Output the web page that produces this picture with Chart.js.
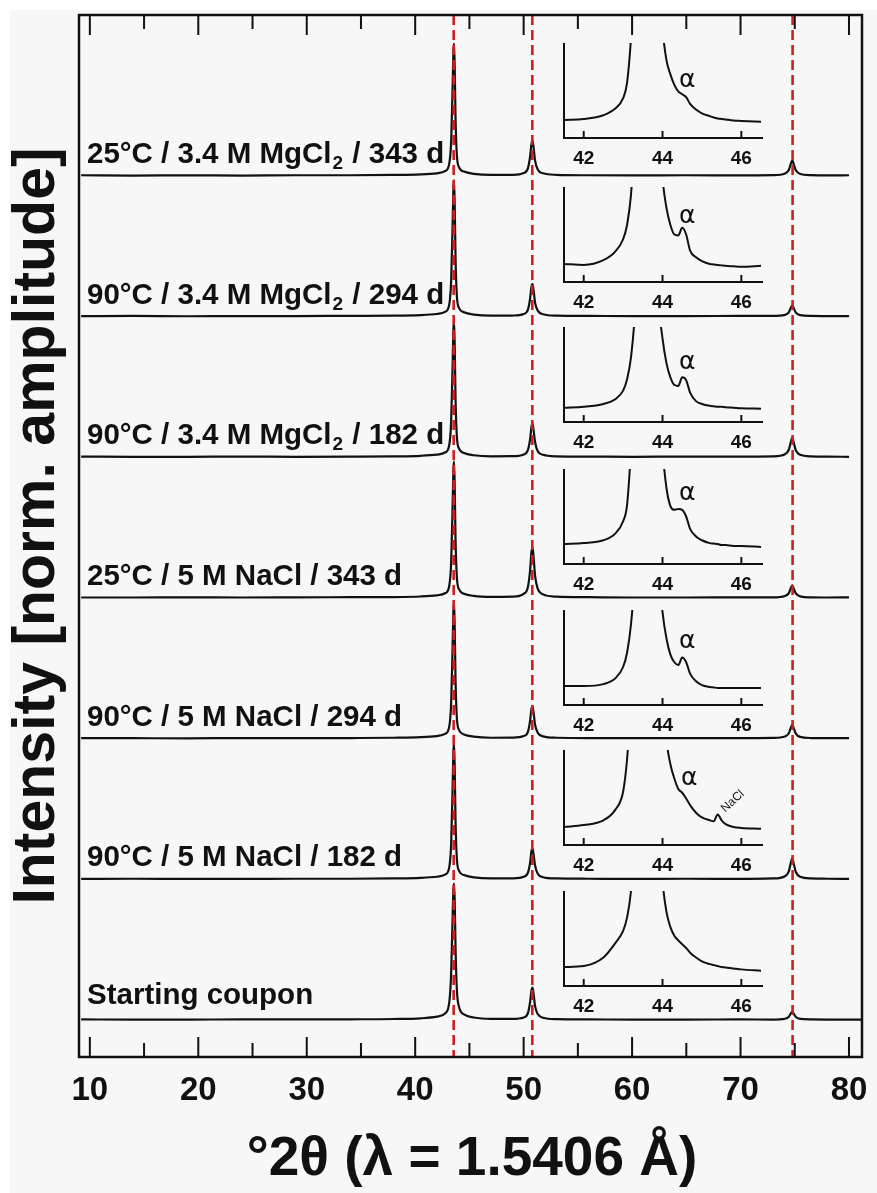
<!DOCTYPE html>
<html>
<head>
<meta charset="utf-8">
<script src="https://cdn.jsdelivr.net/npm/chart.js@4.4.0/dist/chart.umd.min.js"></script>
<style>
html, body { margin: 0; padding: 0; background: #fff; }
#wrap { position: relative; width: 877px; height: 1193px; overflow: hidden; }
#bg { position: absolute; left: 10px; top: 10px; right: 0; bottom: 0; background: #f7f7f7; }
canvas { position: absolute; }
</style>
</head>
<body>
<div id="wrap">
  <div id="bg"></div>
  <canvas id="main" width="877" height="1193" style="left:0;top:0;"></canvas>
</div>
<script>
// sample names, top to bottom
const sampleLabels = [
    '25°C / 3.4 M MgCl₂ / 343 d',
    '90°C / 3.4 M MgCl₂ / 294 d',
    '90°C / 3.4 M MgCl₂ / 182 d',
    '25°C / 5 M NaCl / 343 d',
    '90°C / 5 M NaCl / 294 d',
    '90°C / 5 M NaCl / 182 d',
    'Starting coupon'
];

const peakLines = [43.55, 50.8, 74.8];
const xTicks = [10, 15, 20, 25, 30, 35, 40, 45, 50, 55, 60, 65, 70, 75, 80];
const insetTicks = [42, 44, 46];

// 2theta positions of the main patterns
const mainX = [9.2, 14, 19, 24, 29, 34, 38, 40.5, 42, 42.8, 43.15, 43.32, 43.44, 43.52, 43.58, 43.64, 43.72, 43.84, 44.05, 44.5,
    45.4, 47, 49, 50.0, 50.4, 50.6, 50.72, 50.82, 50.92, 51.05, 51.3, 51.8, 53, 56, 60, 65, 70, 73, 74.1, 74.45,
    74.65, 74.78, 74.9, 75.1, 75.5, 76.5, 78, 80, 81.2];

// normalised intensities, one array per sample (top to bottom)
const mg25_343 = [0.004, 0.002, 0.003, 0.002, 0.004, 0.004, 0.006, 0.01, 0.018, 0.035, 0.09, 0.25, 0.6, 0.87, 0.94, 0.79, 0.41, 0.15, 0.06, 0.03,
    0.014, 0.006, 0.007, 0.02, 0.055, 0.14, 0.225, 0.25, 0.2, 0.11, 0.045, 0.018, 0.007, 0.004, 0.003, 0.004, 0.003, 0.005, 0.017, 0.042,
    0.088, 0.11, 0.083, 0.039, 0.013, 0.005, 0.003, 0.004, null];
const mg90_294 = [0.003, 0.004, 0.002, 0.003, 0.003, 0.005, 0.006, 0.01, 0.018, 0.035, 0.09, 0.26, 0.62, 0.9, 0.97, 0.81, 0.42, 0.15, 0.06, 0.03,
    0.014, 0.006, 0.007, 0.018, 0.05, 0.13, 0.21, 0.23, 0.185, 0.1, 0.042, 0.016, 0.006, 0.004, 0.003, 0.003, 0.004, 0.004, 0.012, 0.03,
    0.064, 0.08, 0.06, 0.028, 0.01, 0.004, 0.003, 0.003, null];
const mg90_182 = [0.004, 0.003, 0.003, 0.004, 0.003, 0.004, 0.006, 0.01, 0.018, 0.035, 0.09, 0.26, 0.62, 0.9, 0.97, 0.81, 0.42, 0.15, 0.06, 0.03,
    0.014, 0.006, 0.007, 0.019, 0.053, 0.13, 0.215, 0.24, 0.19, 0.11, 0.043, 0.017, 0.006, 0.004, 0.003, 0.004, 0.004, 0.006, 0.021, 0.053,
    0.112, 0.14, 0.105, 0.049, 0.017, 0.006, 0.004, 0.003, null];
const na25_343 = [0.003, 0.003, 0.004, 0.003, 0.004, 0.005, 0.006, 0.01, 0.018, 0.035, 0.09, 0.26, 0.62, 0.9, 0.97, 0.81, 0.42, 0.15, 0.06, 0.03,
    0.014, 0.007, 0.009, 0.029, 0.08, 0.2, 0.325, 0.36, 0.29, 0.16, 0.065, 0.025, 0.009, 0.005, 0.003, 0.003, 0.004, 0.004, 0.014, 0.034,
    0.072, 0.09, 0.068, 0.032, 0.011, 0.004, 0.003, 0.004, null];
const na90_294 = [0.004, 0.003, 0.002, 0.004, 0.003, 0.004, 0.006, 0.01, 0.018, 0.035, 0.09, 0.26, 0.62, 0.9, 0.97, 0.81, 0.42, 0.15, 0.06, 0.03,
    0.014, 0.006, 0.007, 0.018, 0.05, 0.13, 0.21, 0.23, 0.185, 0.1, 0.042, 0.016, 0.006, 0.004, 0.004, 0.003, 0.003, 0.005, 0.015, 0.038,
    0.08, 0.1, 0.075, 0.035, 0.012, 0.004, 0.003, 0.004, null];
const na90_182 = [0.003, 0.004, 0.003, 0.003, 0.004, 0.004, 0.006, 0.01, 0.018, 0.035, 0.09, 0.26, 0.62, 0.9, 0.97, 0.81, 0.42, 0.15, 0.06, 0.03,
    0.014, 0.006, 0.007, 0.018, 0.048, 0.12, 0.2, 0.22, 0.175, 0.1, 0.04, 0.015, 0.006, 0.004, 0.003, 0.004, 0.003, 0.006, 0.022, 0.057,
    0.12, 0.15, 0.112, 0.052, 0.018, 0.006, 0.004, 0.003, null];
const coupon = [0.004, 0.003, 0.003, 0.004, 0.004, 0.005, 0.007, 0.012, 0.024, 0.05, 0.13, 0.34, 0.7, 0.92, 0.97, 0.86, 0.52, 0.22, 0.09, 0.04,
    0.018, 0.008, 0.008, 0.018, 0.05, 0.13, 0.21, 0.23, 0.185, 0.1, 0.042, 0.016, 0.006, 0.004, 0.003, 0.003, 0.004, 0.003, 0.009, 0.023,
    0.048, 0.06, 0.045, 0.021, 0.008, 0.004, 0.003, 0.003, 0.002];
const patterns = [mg25_343, mg90_294, mg90_182, na25_343, na90_294, na90_182, coupon];

// zoomed region around the (111) peak, fraction of inset height
const insetX = [41.5, 42.0, 42.5, 42.8, 43.0, 43.1, 43.2, 43.3, 43.45, 43.6, 43.75, 43.9, 44.0, 44.1, 44.2, 44.3, 44.4, 44.5, 44.6, 44.7,
    44.85, 45.0, 45.2, 45.3, 45.4, 45.5, 45.6, 45.8, 46.0, 46.5];
const inset1 = [0.19, 0.20, 0.24, 0.31, 0.42, 0.58, 1.05, 1.8, 3, 4, 3, 1.8, 1.15, 0.82, 0.67, 0.56, 0.49, 0.46, 0.43, 0.36,
    0.3, 0.26, 0.23, 0.215, 0.205, 0.2, 0.195, 0.185, 0.18, 0.17];
const inset2 = [0.19, 0.18, 0.23, 0.32, 0.45, 0.6, 0.92, 1.6, 3, 4, 3, 1.8, 1.1, 0.78, 0.6, 0.5, 0.49, 0.57, 0.5, 0.33,
    0.26, 0.22, 0.19, 0.185, 0.18, 0.175, 0.17, 0.165, 0.16, 0.17];
const inset3 = [0.15, 0.16, 0.19, 0.24, 0.33, 0.45, 0.68, 1.15, 2.5, 4, 3, 1.3, 0.88, 0.62, 0.47, 0.39, 0.38, 0.47, 0.44, 0.31,
    0.22, 0.19, 0.17, 0.165, 0.16, 0.16, 0.155, 0.15, 0.145, 0.14];
const inset4 = [0.21, 0.22, 0.25, 0.32, 0.45, 0.62, 1.2, 2, 3, 4, 3, 1.8, 1.2, 0.8, 0.61, 0.57, 0.58, 0.57, 0.5, 0.37,
    0.29, 0.25, 0.22, 0.215, 0.21, 0.2, 0.2, 0.19, 0.19, 0.18];
const inset5 = [0.2, 0.2, 0.22, 0.28, 0.4, 0.55, 0.85, 1.4, 3, 4, 3, 1.5, 0.98, 0.7, 0.53, 0.45, 0.42, 0.5, 0.45, 0.33,
    0.25, 0.21, 0.19, 0.185, 0.18, 0.18, 0.18, 0.18, 0.18, 0.18];
const inset6 = [0.19, 0.21, 0.26, 0.37, 0.56, 0.9, 1.5, 2.2, 3, 4, 3, 2.2, 1.6, 1.1, 0.85, 0.7, 0.59, 0.55, 0.49, 0.42,
    0.34, 0.29, 0.26, 0.25, 0.32, 0.26, 0.22, 0.19, 0.18, 0.17];
const inset7 = [0.2, 0.21, 0.3, 0.45, 0.58, 0.72, 1.0, 1.6, 3, 4, 3, 1.7, 1.1, 0.78, 0.62, 0.53, 0.48, 0.44, 0.4, 0.35,
    0.3, 0.26, 0.23, 0.22, 0.21, 0.2, 0.195, 0.185, 0.175, 0.16];
const insets = [inset1, inset2, inset3, inset4, inset5, inset6, inset7];

// alpha-phase marker in each inset [2theta, height]
const alphaMarks = [[44.63, 0.61], [44.63, 0.69], [44.63, 0.63], [44.63, 0.74], [44.63, 0.67], [44.68, 0.70], null];
const naclMark = [5, 45.78, 0.46];

const FONT = '"Liberation Sans", Arial, sans-serif';
const insetBottoms = [138, 282, 422, 564, 705, 845, 986];

function drawLabel(ctx, text, x, y) {
    // subscript "2" in MgCl2
    const parts = text.split('₂');
    ctx.font = 'bold 29.5px ' + FONT;
    ctx.fillText(parts[0], x, y);
    if (parts.length > 1) {
        x += ctx.measureText(parts[0]).width;
        ctx.font = 'bold 19px ' + FONT;
        ctx.fillText('2', x + 1, y + 6);
        x += ctx.measureText('2').width + 2;
        ctx.font = 'bold 29.5px ' + FONT;
        ctx.fillText(parts[1], x, y);
    }
}

const mainDecor = {
    id: 'mainDecor',
    afterDatasetsDraw(chart) {
        const ctx = chart.ctx;
        const a = chart.chartArea;
        const xs = chart.scales.x;
        const ys = chart.scales.y;
        ctx.save();
        ctx.fillStyle = '#111';
        ctx.textBaseline = 'alphabetic';
        ctx.textAlign = 'left';
        patterns.forEach(function(p, i) {
            const base = ys.getPixelForValue(6 - i);
            drawLabel(ctx, sampleLabels[i], 87, base - (i === 6 ? 16 : 13));
        });

        ctx.strokeStyle = '#cf2020';
        ctx.lineWidth = 2.6;
        ctx.setLineDash([10, 5]);
        peakLines.forEach(function(v) {
            const px = xs.getPixelForValue(v);
            ctx.beginPath();
            ctx.moveTo(px, a.top);
            ctx.lineTo(px, a.bottom);
            ctx.stroke();
        });
        ctx.setLineDash([]);

        ctx.strokeStyle = '#111';
        ctx.lineWidth = 2.5;
        ctx.strokeRect(a.left, a.top, a.right - a.left, a.bottom - a.top);
        ctx.lineWidth = 2;
        xTicks.forEach(function(v) {
            const px = xs.getPixelForValue(v);
            const len = v % 10 === 0 ? 20 : 14;
            ctx.beginPath();
            ctx.moveTo(px, a.bottom);
            ctx.lineTo(px, a.bottom - len);
            ctx.moveTo(px, a.top);
            ctx.lineTo(px, a.top + len);
            ctx.stroke();
        });

        ctx.textAlign = 'center';
        ctx.textBaseline = 'middle';
        ctx.font = 'bold 33px ' + FONT;
        xTicks.forEach(function(v) {
            if (v % 10 === 0) ctx.fillText(String(v), xs.getPixelForValue(v), a.bottom + 34);
        });

        ctx.font = 'bold 55px ' + FONT;
        ctx.fillText('°2θ (λ = 1.5406 Å)', 472, 1160);

        ctx.translate(38, 526);
        ctx.rotate(-Math.PI / 2);
        ctx.font = 'bold 59px ' + FONT;
        ctx.fillText('Intensity [norm. amplitude]', 0, 0);
        ctx.restore();
    }
};

const mainDatasets = patterns.map(function(p, i) {
    return {
        data: mainX.map(function(x, j) {
            return { x: x, y: p[j] === null ? null : p[j] + (6 - i) };
        }),
        borderColor: '#111',
        borderWidth: 2.2,
        pointRadius: 0,
        cubicInterpolationMode: 'monotone',
        spanGaps: false,
        fill: false
    };
});

new Chart(document.getElementById('main').getContext('2d'), {
    type: 'line',
    data: { datasets: mainDatasets },
    options: {
        responsive: false,
        animation: false,
        layout: { padding: { left: 79, top: 15, right: 15, bottom: 136 } },
        plugins: { legend: { display: false }, tooltip: { enabled: false } },
        scales: {
            x: { type: 'linear', min: 9, max: 81.2, display: false },
            y: { type: 'linear', min: -0.263, max: 7.143, display: false }
        }
    },
    plugins: [mainDecor]
});

// insets
const insetDecor = {
    id: 'insetDecor',
    afterDatasetsDraw(chart) {
        const ctx = chart.ctx;
        const a = chart.chartArea;
        const xs = chart.scales.x;
        const ys = chart.scales.y;
        const idx = chart.options.insetIndex;
        ctx.save();
        ctx.strokeStyle = '#111';
        ctx.lineWidth = 2;
        ctx.beginPath();
        ctx.moveTo(a.left, a.top);
        ctx.lineTo(a.left, a.bottom);
        ctx.lineTo(a.right, a.bottom);
        ctx.stroke();
        ctx.fillStyle = '#111';
        ctx.font = 'bold 19px ' + FONT;
        ctx.textAlign = 'center';
        ctx.textBaseline = 'middle';
        insetTicks.forEach(function(v) {
            const px = xs.getPixelForValue(v);
            ctx.beginPath();
            ctx.moveTo(px, a.bottom);
            ctx.lineTo(px, a.bottom - 7);
            ctx.stroke();
            ctx.fillText(String(v), px, a.bottom + 21);
        });
        const m = alphaMarks[idx];
        if (m) {
            ctx.font = '25px "DejaVu Sans", ' + FONT;
            ctx.fillText('α', xs.getPixelForValue(m[0]), ys.getPixelForValue(m[1]));
        }
        if (naclMark[0] === idx) {
            ctx.translate(xs.getPixelForValue(naclMark[1]), ys.getPixelForValue(naclMark[2]));
            ctx.rotate(-0.75);
            ctx.font = '12px ' + FONT;
            ctx.fillText('NaCl', 0, 0);
        }
        ctx.restore();
    }
};

const wrap = document.getElementById('wrap');
insets.forEach(function(vals, i) {
    const c = document.createElement('canvas');
    c.width = 240;
    c.height = 150;
    const top = insetBottoms[i] - 95 - 8;
    c.style.left = '540px';
    c.style.top = top + 'px';
    wrap.appendChild(c);
    new Chart(c.getContext('2d'), {
        type: 'line',
        data: {
            datasets: [{
                data: insetX.map(function(x, j) { return { x: x, y: vals[j] }; }),
                borderColor: '#111',
                borderWidth: 2,
                pointRadius: 0,
                cubicInterpolationMode: 'monotone',
                clip: { left: 4, right: 4, top: 0, bottom: 4 },
                fill: false
            }]
        },
        options: {
            insetIndex: i,
            responsive: false,
            animation: false,
            layout: { padding: { left: 24, top: 8, right: 17, bottom: 47 } },
            plugins: { legend: { display: false }, tooltip: { enabled: false } },
            scales: {
                x: { type: 'linear', min: 41.5, max: 46.55, display: false },
                y: { type: 'linear', min: 0, max: 1, display: false }
            }
        },
        plugins: [insetDecor]
    });
});
</script>
</body>
</html>
